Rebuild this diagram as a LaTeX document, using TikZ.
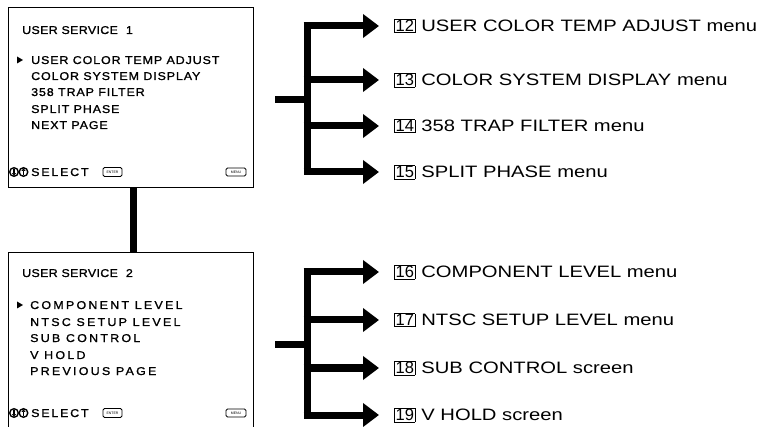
\documentclass[tikz,border=0pt]{standalone}
\usepackage{fontspec}
\setmainfont{Liberation Sans}
\newfontfamily\lblfont[FakeStretch=1.225]{Liberation Sans}
\newfontfamily\numfont{Liberation Sans}
\newfontfamily\scrfont[FakeStretch=1.1,LetterSpace=8,FakeBold=1.2]{Liberation Sans}
\newfontfamily\scrwide[FakeStretch=1.1,LetterSpace=20,FakeBold=1.2]{Liberation Sans}
\newfontfamily\scrtitle[FakeStretch=1.1,LetterSpace=3,FakeBold=1.2]{Liberation Sans}
\newfontfamily\scrsel[FakeStretch=1.1,LetterSpace=16,FakeBold=1.2]{Liberation Sans}
\usetikzlibrary{arrows.meta}
\newcommand{\numbox}[1]{{\setlength{\fboxsep}{0.6pt}\setlength{\fboxrule}{0.8pt}\fbox{\numfont #1}}}
\begin{document}
\begin{tikzpicture}[x=1pt,y=-1pt,
  bar/.style={line width=7pt},
  arr/.style={line width=7pt,-{Triangle[length=16pt,width=23pt]},shorten >=15pt},
  lbl/.style={anchor=west,inner sep=0pt,text height=13.1pt,text depth=1.3pt,font=\lblfont\fontsize{16.5}{18}\selectfont},
  screen/.style={draw,line width=1.2pt,anchor=north west,inner sep=0pt,minimum width=245pt},
  ttl/.style={anchor=base west,inner sep=0pt,font=\scrtitle\fontsize{11.3}{13}\selectfont},
  itm/.style={anchor=base west,inner sep=0pt,font=\scrfont\fontsize{11.3}{13}\selectfont},
  itmw/.style={anchor=base west,inner sep=0pt,font=\scrwide\fontsize{11.3}{13}\selectfont},
  sel/.style={anchor=base west,inner sep=0pt,font=\scrsel\fontsize{11.3}{13}\selectfont},
  tiny/.style={inner sep=0pt,font=\fontsize{3.5}{4}\selectfont},
  icon/.style={line width=0.9pt,rounded corners=1.5pt},
  updn/.style={line width=1.4pt},
  updnarr/.style={line width=1.3pt,-{Triangle[length=2.5pt,width=4pt]}}
]
\useasboundingbox (0,0) rectangle (760,427);
\clip (0,0) rectangle (760,427);

% ---------- screen 1 ----------
\node[screen,minimum height=180pt] (b1) at (8,7) {};
\node[ttl] (t1) at (22,34) {USER SERVICE\hspace{8pt}1};
\fill (17,56.5) -- (23,60) -- (17,63.5) -- cycle;
\node[itm] (i11) at (31,64) {USER COLOR TEMP ADJUST};
\node[itm] (i12) at (31,80) {COLOR SYSTEM DISPLAY};
\node[itm] (i13) at (31,96) {358 TRAP FILTER};
\node[itm] (i14) at (31,113) {SPLIT PHASE};
\node[itm] (i15) at (31,129) {NEXT PAGE};
\draw[updn] (14,172) circle (4.3);
\draw[updnarr] (14,168.8) -- (14,175.6);
\draw[updn] (23.5,172) circle (4.3);
\draw[updnarr] (23.5,175.2) -- (23.5,168.4);
\node[sel] (s1) at (31,176) {SELECT};
\draw[icon] (103,167.5) rectangle (122,176.5);
\node[tiny] (e1) at (112.5,172) {ENTER};
\draw[icon] (226,168) rectangle (246,176);
\node[tiny] (m1) at (236,172) {MENU};

% ---------- screen 2 ----------
\node[screen,minimum height=190pt] (b2) at (8,252) {};
\node[ttl] (t2) at (22,277) {USER SERVICE\hspace{8pt}2};
\fill (17,301.5) -- (23,305) -- (17,308.5) -- cycle;
\node[itmw] (i21) at (30,309) {COMPONENT LEVEL};
\node[itmw] (i22) at (30,326) {NTSC SETUP LEVEL};
\node[itmw] (i23) at (30,342) {SUB CONTROL};
\node[itmw] (i24) at (30,359) {V HOLD};
\node[itmw] (i25) at (30,375) {PREVIOUS PAGE};
\draw[updn] (14,413) circle (4.3);
\draw[updnarr] (14,409.8) -- (14,416.6);
\draw[updn] (23.5,413) circle (4.3);
\draw[updnarr] (23.5,416.2) -- (23.5,409.4);
\node[sel] (s2) at (31,417) {SELECT};
\draw[icon] (103,408.5) rectangle (122,417.5);
\node[tiny] (e2) at (112.5,413) {ENTER};
\draw[icon] (226,409) rectangle (246,417);
\node[tiny] (m2) at (236,413) {MENU};

% link between screens
\draw[bar] ([xshift=2.5pt]b1.south) -- ([xshift=2.5pt]b2.north);

% ---------- labels, group 1 ----------
\node[lbl] (l12) at (394,26) {\numbox{12}\hspace{6pt}USER COLOR TEMP ADJUST menu};
\node[lbl] (l13) at (394,80) {\numbox{13}\hspace{6pt}COLOR SYSTEM DISPLAY menu};
\node[lbl] (l14) at (394,126) {\numbox{14}\hspace{6pt}358 TRAP FILTER menu};
\node[lbl] (l15) at (394,172) {\numbox{15}\hspace{6pt}SPLIT PHASE menu};

\coordinate (s1a) at (275,100);
\coordinate (j1) at (307,100);
\coordinate (a12) at (303.5,26);
\coordinate (a13) at (303.5,80);
\coordinate (a14) at (303.5,126);
\coordinate (a15) at (303.5,172);
\coordinate (tr1a) at (307,22.5);
\coordinate (tr1b) at (307,175.5);
\draw[bar] (s1a) -- (j1);
\draw[bar] (tr1a) -- (tr1b);
\draw[arr] (a12) -- (l12.west);
\draw[arr] (a13) -- (l13.west);
\draw[arr] (a14) -- (l14.west);
\draw[arr] (a15) -- (l15.west);

% ---------- labels, group 2 ----------
\node[lbl] (l16) at (394,272) {\numbox{16}\hspace{6pt}COMPONENT LEVEL menu};
\node[lbl] (l17) at (394,320) {\numbox{17}\hspace{6pt}NTSC SETUP LEVEL menu};
\node[lbl] (l18) at (394,368) {\numbox{18}\hspace{6pt}SUB CONTROL screen};
\node[lbl] (l19) at (394,415) {\numbox{19}\hspace{6pt}V HOLD screen};

\coordinate (s2a) at (275,345);
\coordinate (j2) at (307,345);
\coordinate (a16) at (303.5,272);
\coordinate (a17) at (303.5,320);
\coordinate (a18) at (303.5,368);
\coordinate (a19) at (303.5,415);
\coordinate (tr2a) at (307,268.5);
\coordinate (tr2b) at (307,418.5);
\draw[bar] (s2a) -- (j2);
\draw[bar] (tr2a) -- (tr2b);
\draw[arr] (a16) -- (l16.west);
\draw[arr] (a17) -- (l17.west);
\draw[arr] (a18) -- (l18.west);
\draw[arr] (a19) -- (l19.west);
\end{tikzpicture}
\end{document}
